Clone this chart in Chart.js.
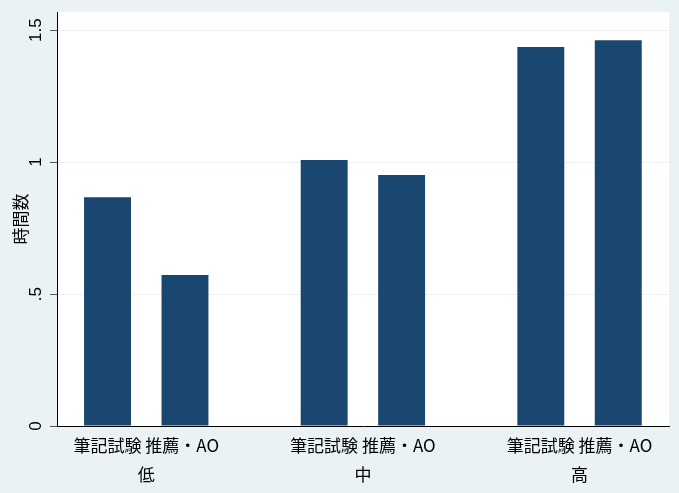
<!DOCTYPE html>
<html>
<head>
<meta charset="utf-8">
<script src="https://cdn.jsdelivr.net/npm/chart.js@4/dist/chart.umd.min.js"></script>
<style>
  html, body { margin: 0; padding: 0; background: #eaf2f3; }
  #wrap { width: 679px; height: 493px; }
</style>
</head>
<body>
<div id="wrap"><canvas id="chart"></canvas></div>
<script>
const groups = ['低', '中', '高'];
const methods = ['筆記試験', '推薦・AO'];
const writtenExam = [0.867, 1.008, 1.436];
const recommendAO = [0.572, 0.951, 1.462];
const yTicks = [0, 0.5, 1, 1.5];
const yTickLabels = ['0', '.5', '1', '1.5'];

const barColor = '#1a476f';
const cjk = '"Noto Sans CJK JP", "Noto Sans", sans-serif';

// white plot region on the grey-blue page
const plotBg = {
  id: 'plotBg',
  beforeDraw(chart) {
    const {ctx, chartArea: a} = chart;
    ctx.save();
    ctx.fillStyle = '#ffffff';
    ctx.fillRect(a.left, a.top, a.right - a.left, a.bottom - a.top);
    ctx.restore();
  }
};

function toPoints(values) {
  return values.map((v, i) => ({x: i, y: v}));
}

new Chart(document.getElementById('chart'), {
  type: 'bar',
  data: {
    datasets: [
      {label: methods[0], data: toPoints(writtenExam), backgroundColor: barColor},
      {label: methods[1], data: toPoints(recommendAO), backgroundColor: barColor}
    ]
  },
  options: {
    responsive: true,
    maintainAspectRatio: false,
    animation: false,
    categoryPercentage: 0.715,
    barPercentage: 0.606,
    layout: {padding: {top: 12, right: 10, left: 0, bottom: 0}},
    plugins: {legend: {display: false}, tooltip: {enabled: false}},
    scales: {
      x: {
        type: 'linear',
        offset: false,
        min: -0.412,
        max: 2.413,
        afterBuildTicks: s => { s.ticks = groups.map((g, i) => ({value: i})); },
        afterFit: s => { s.height = 67; },
        grid: {display: false, drawTicks: false, offset: false},
        border: {display: true, color: '#000000', width: 1},
        ticks: {
          autoSkip: false,
          maxRotation: 0,
          padding: 5.5,
          color: '#000000',
          font: {family: cjk, size: 17, lineHeight: 1.7},
          callback: v => [methods.join(' '), groups[v]]
        }
      },
      y: {
        min: 0,
        max: 1.568,
        afterBuildTicks: s => { s.ticks = yTicks.map(v => ({value: v})); },
        afterFit: s => { s.width = 57; },
        grid: {color: '#eaf2f3', lineWidth: 1, tickLength: 7, tickColor: '#555555'},
        border: {display: true, color: '#000000', width: 1},
        ticks: {
          minRotation: 90,
          maxRotation: 90,
          crossAlign: 'center',
          padding: 2,
          color: '#000000',
          font: {family: '"Liberation Sans", Arial, sans-serif', size: 17},
          callback: v => yTickLabels[yTicks.indexOf(v)]
        },
        title: {
          display: true,
          text: '時間数',
          color: '#000000',
          padding: {top: 10, bottom: 0},
          font: {family: cjk, size: 17}
        }
      }
    }
  },
  plugins: [plotBg]
});
</script>
</body>
</html>
